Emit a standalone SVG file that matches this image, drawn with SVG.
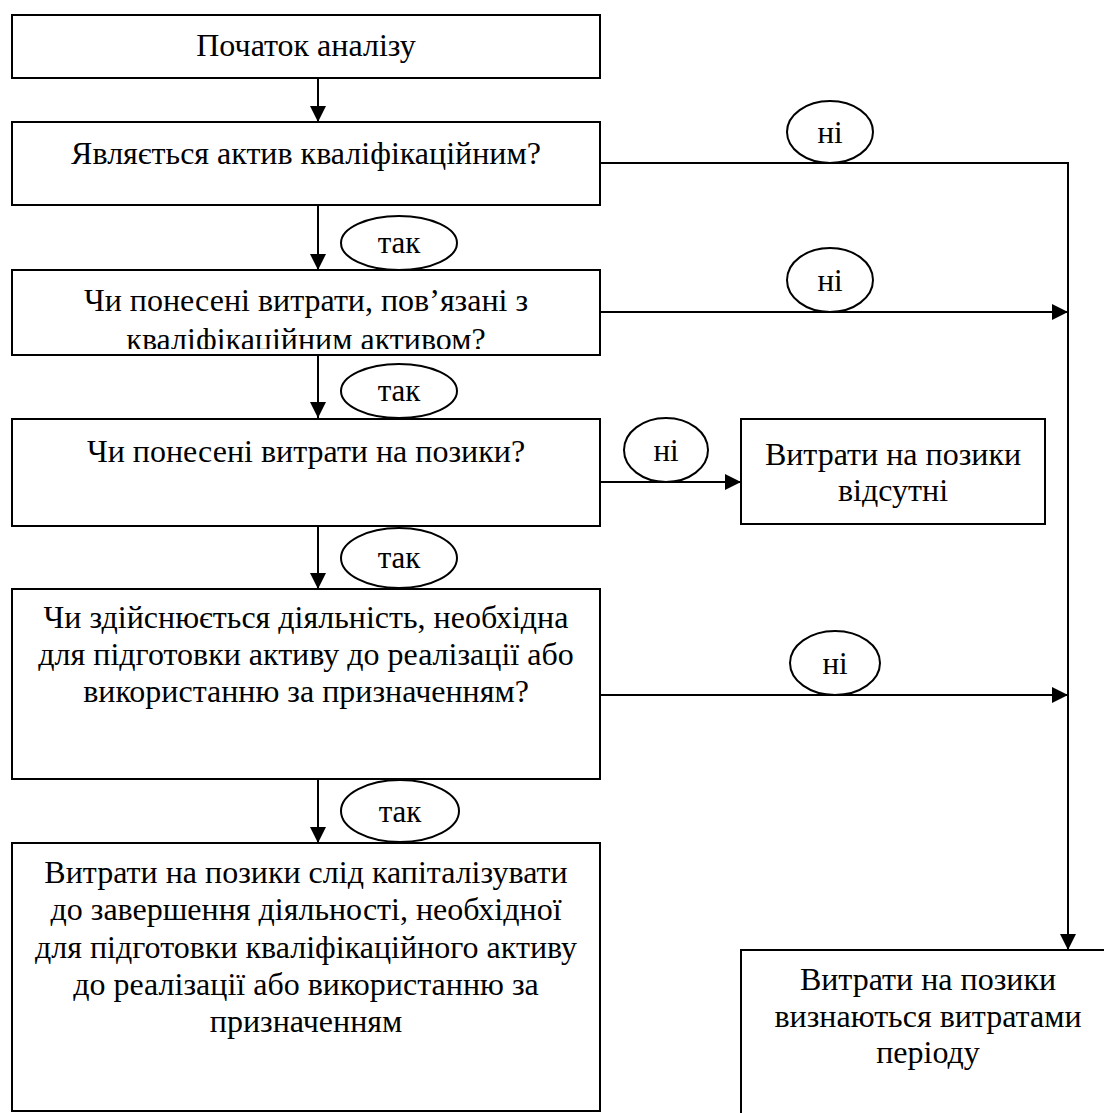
<svg xmlns="http://www.w3.org/2000/svg" width="1104" height="1113" viewBox="0 0 1104 1113" font-family="Liberation Serif, Times New Roman, serif">
<style>
.box{fill:#fff;stroke:#000;stroke-width:2}
.lbl{fill:#fff;stroke:#000;stroke-width:2}
.t{font-size:32px;fill:#000;text-anchor:middle}
.tl{font-size:31px;fill:#000;text-anchor:middle}
.c{fill:none;stroke:#000;stroke-width:2}
</style>
<defs>
<marker id="ah" markerUnits="userSpaceOnUse" markerWidth="18" markerHeight="16" refX="16" refY="8" orient="auto">
<path d="M0,0 L16,8 L0,16 Z" fill="#000"/>
</marker>
<clipPath id="b3clip"><rect x="12" y="270" width="588" height="79"/></clipPath>
</defs>
<rect width="1104" height="1113" fill="#fff"/>
<g id="connectors">
<line class="c" x1="318" y1="78" x2="318" y2="122" marker-end="url(#ah)"/>
<line class="c" x1="318" y1="205" x2="318" y2="270" marker-end="url(#ah)"/>
<line class="c" x1="318" y1="355" x2="318" y2="418" marker-end="url(#ah)"/>
<line class="c" x1="318" y1="526" x2="318" y2="589" marker-end="url(#ah)"/>
<line class="c" x1="318" y1="779" x2="318" y2="843" marker-end="url(#ah)"/>
<polyline class="c" points="600,163 1068,163 1068,950" marker-end="url(#ah)"/>
<line class="c" x1="600" y1="312" x2="1068" y2="312" marker-end="url(#ah)"/>
<line class="c" x1="600" y1="482" x2="741" y2="482" marker-end="url(#ah)"/>
<line class="c" x1="600" y1="695" x2="1068" y2="695" marker-end="url(#ah)"/>
</g>
<g id="n1"><rect class="box" x="12" y="15" width="588" height="63"/><text class="t" x="306" y="56">Початок аналізу</text></g>
<g id="n2"><rect class="box" x="12" y="122" width="588" height="83"/><text class="t" x="306" y="164">Являється актив кваліфікаційним?</text></g>
<g id="n3"><rect class="box" x="12" y="270" width="588" height="85"/><text class="t" x="306" y="311">Чи понесені витрати, пов’язані з</text><text class="t" x="306" y="350" clip-path="url(#b3clip)">кваліфікаційним активом?</text></g>
<g id="n4"><rect class="box" x="12" y="419" width="588" height="107"/><text class="t" x="306" y="462">Чи понесені витрати на позики?</text></g>
<g id="n5"><rect class="box" x="741" y="419" width="304" height="105"/><text class="t" x="893" y="465">Витрати на позики</text><text class="t" x="893" y="501">відсутні</text></g>
<g id="n6"><rect class="box" x="12" y="589" width="588" height="190"/><text class="t" x="306" y="628">Чи здійснюється діяльність, необхідна</text><text class="t" x="306" y="665">для підготовки активу до реалізації або</text><text class="t" x="306" y="702">використанню за призначенням?</text></g>
<g id="n7"><rect class="box" x="12" y="843" width="588" height="268"/><text class="t" x="306" y="883">Витрати на позики слід капіталізувати</text><text class="t" x="306" y="920">до завершення діяльності, необхідної</text><text class="t" x="306" y="958">для підготовки кваліфікаційного активу</text><text class="t" x="306" y="995">до реалізації або використанню за</text><text class="t" x="306" y="1032">призначенням</text></g>
<g id="n8"><rect class="box" x="741" y="950" width="400" height="200"/><text class="t" x="928" y="990">Витрати на позики</text><text class="t" x="928" y="1027">визнаються витратами</text><text class="t" x="928" y="1063">періоду</text></g>
<g id="l1"><ellipse class="lbl" cx="830" cy="132" rx="43" ry="31"/><text class="tl" x="830" y="143">ні</text></g>
<g id="l2"><ellipse class="lbl" cx="830" cy="280" rx="43" ry="32"/><text class="tl" x="830" y="291">ні</text></g>
<g id="l3"><ellipse class="lbl" cx="666" cy="450" rx="42" ry="32"/><text class="tl" x="666" y="461">ні</text></g>
<g id="l4"><ellipse class="lbl" cx="835" cy="663" rx="45" ry="32"/><text class="tl" x="835" y="674">ні</text></g>
<g id="y1"><ellipse class="lbl" cx="399" cy="243" rx="58" ry="27"/><text class="tl" x="399" y="253">так</text></g>
<g id="y2"><ellipse class="lbl" cx="399" cy="391" rx="58" ry="27"/><text class="tl" x="399" y="401">так</text></g>
<g id="y3"><ellipse class="lbl" cx="399" cy="558" rx="58" ry="30"/><text class="tl" x="399" y="568">так</text></g>
<g id="y4"><ellipse class="lbl" cx="400" cy="811" rx="59" ry="31"/><text class="tl" x="400" y="822">так</text></g>
</svg>
